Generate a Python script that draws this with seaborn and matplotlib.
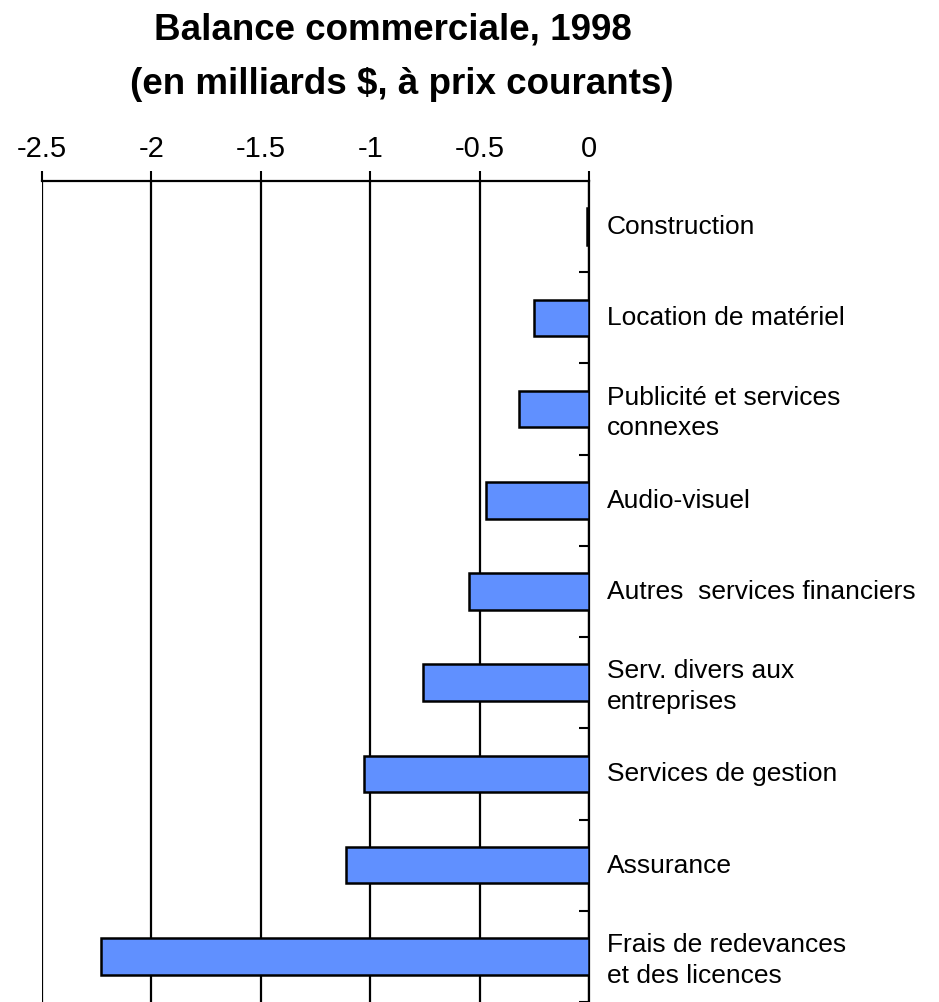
import numpy as np
import pandas as pd
import matplotlib
matplotlib.use('Agg')
import matplotlib.pyplot as plt
import matplotlib.transforms as mtransforms
import seaborn as sns

categories = ['Construction', 'Location de matériel', 'Publicité et services\nconnexes',
              'Audio-visuel', 'Autres  services financiers', 'Serv. divers aux\nentreprises',
              'Services de gestion', 'Assurance', 'Frais de redevances\net des licences']
values = [-0.01, -0.25, -0.32, -0.47, -0.55, -0.76, -1.03, -1.11, -2.23]
xticks = [-2.5, -2, -1.5, -1, -0.5, 0]
xticklabels = ['-2.5', '-2', '-1.5', '-1', '-0.5', '0']

df = pd.DataFrame({'cat': categories, 'val': values})

sns.set_theme(style='white')
plt.rcParams['font.family'] = ['Liberation Sans', 'DejaVu Sans']
plt.rcParams['text.color'] = 'black'
plt.rcParams['xtick.color'] = 'black'
plt.rcParams['ytick.color'] = 'black'

fig = plt.figure(figsize=(9.39, 10.03), dpi=100)
ax = fig.add_axes([42 / 939, 0.0, (589 - 42) / 939, 1 - 182 / 1003])

sns.barplot(data=df, x='val', y='cat', orient='h', color='#6090ff', saturation=1,
            width=0.4, edgecolor='black', linewidth=1.8, ax=ax, zorder=3)

ax.set_xlim(-2.5, 0)
ax.set_ylim(len(categories) - 0.5, -0.5)
ax.set_xlabel('')
ax.set_ylabel('')

# x axis on top
ax.xaxis.tick_top()
ax.set_xticks(xticks)
ax.set_xticklabels(xticklabels, fontsize=21)
ax.tick_params(axis='x', direction='out', length=7, width=1.5, pad=7, labelcolor='black')
ax.grid(axis='x', color='black', linewidth=1.6, zorder=0)
ax.set_axisbelow(True)

# y axis on the right, labels at categories, small ticks between
ax.yaxis.tick_right()
ax.set_yticks(range(len(categories)))
ax.set_yticklabels(categories, fontsize=19, ha='left', linespacing=1.35)
ax.tick_params(axis='y', which='major', length=0, pad=13, labelcolor='black')
ax.set_yticks(np.arange(0.5, len(categories), 1), minor=True)
ax.tick_params(axis='y', which='minor', direction='in', length=7, width=1.5, right=True, left=False)
shift = mtransforms.ScaledTranslation(0, 3 / 100, fig.dpi_scale_trans)
for lab in ax.get_yticklabels():
    lab.set_transform(lab.get_transform() + shift)

for side in ['left', 'bottom']:
    ax.spines[side].set_visible(False)
for side in ['top', 'right']:
    ax.spines[side].set_visible(True)
    ax.spines[side].set_color('black')
    ax.spines[side].set_linewidth(1.6)

fig.text(393 / 939, 1 - 30 / 1003, 'Balance commerciale, 1998', ha='center', va='center',
         fontsize=26.5, fontweight='bold', color='black')
fig.text(402 / 939, 1 - 84 / 1003, '(en milliards $, à prix courants)', ha='center', va='center',
         fontsize=26.5, fontweight='bold', color='black')

fig.savefig('out.png', dpi=100)
